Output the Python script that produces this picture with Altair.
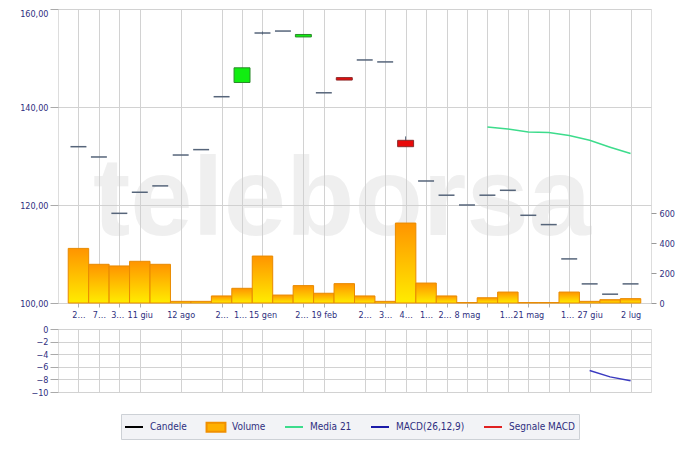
import altair as alt
import pandas as pd

# ---------------- data ----------------
idx = list(range(28))
opens = [131.9, 129.8, 118.3, 122.6, 123.9, 130.2, 131.3, 142.1, 145.0, 155.1,
         155.5, 154.3, 142.9, 146.0, 149.6, 149.2, 133.2, 124.9, 122.0, 120.0,
         122.0, 123.0, 117.9, 116.0, 109.0, 103.9, 101.8, 103.9]
closes = [131.9, 129.8, 118.3, 122.6, 123.9, 130.2, 131.3, 142.1, 148.0, 155.1,
          155.5, 154.8, 142.9, 145.5, 149.6, 149.2, 131.9, 124.9, 122.0, 120.0,
          122.0, 123.0, 117.9, 116.0, 109.0, 103.9, 101.8, 103.9]
highs = [131.9, 129.8, 118.3, 122.6, 123.9, 130.2, 131.3, 142.1, 148.0, 155.4,
         155.5, 154.8, 142.9, 146.0, 149.6, 149.2, 134.0, 124.9, 122.0, 120.0,
         122.0, 123.0, 117.9, 116.0, 109.0, 103.9, 101.8, 103.9]
lows = [131.9, 129.8, 118.3, 122.6, 123.9, 130.2, 131.3, 142.1, 145.0, 154.8,
        155.5, 154.3, 142.9, 145.5, 149.6, 149.2, 131.9, 124.9, 122.0, 120.0,
        122.0, 123.0, 117.9, 116.0, 109.0, 103.9, 101.8, 103.9]
volumes = [364, 258, 247, 278, 258, 11, 11, 47, 98, 313, 53, 116, 65, 129, 47,
           11, 533, 133, 47, 3, 35, 73, 3, 3, 73, 11, 22, 29]
ma21 = [None] * 20 + [135.9, 135.5, 134.9, 134.8, 134.2, 133.2, 131.8, 130.5]
macd = [None] * 25 + [-6.6, -7.6, -8.2]

tick_pos = [0, 1, 2, 3, 5, 7, 8, 9, 11, 12, 14, 15, 16, 17, 18, 19, 20, 21, 22,
            23, 24, 25, 27]
tick_text = ["2…", "7…", "3…", "11 giu", "12 ago", "2…", "1…", "15 gen", "2…",
             "19 feb", "2…", "3…", "4…", "1…", "2…", "8 mag", "", "1…", "21 mag",
             "", "1…", "27 giu", "2 lug"]
price_ticks = [100, 120, 140, 160]
vol_ticks = [0, 200, 400, 600]
macd_ticks = [0, -2, -4, -6, -8, -10]
legend_names = ["Candele", "Volume", "Media 21", "MACD(26,12,9)", "Segnale MACD"]
WATERMARK = "teleborsa"

# ---------------- style ----------------
FONT = "Tahoma, 'DejaVu Sans Condensed', 'DejaVu Sans', sans-serif"
NAVY = "#2f2f80"
GRID = "#d2d2d2"
DASH = "#56657a"
MA_COL = "#3ddc8c"
MACD_COL = "#3a3ac0"
LINE_SYM = "M-1,0H1M0,-0.55M0,0.55"
RECT_SYM = "M-1.05,-0.5H1.05V0.5H-1.05Z"

df = pd.DataFrame({"i": idx, "open": opens, "close": closes, "high": highs,
                   "low": lows, "vol": volumes, "ma": ma21, "macd": macd})
df["xl"] = df["i"] - 0.5
df["xr"] = df["i"] + 0.5
df["bl"] = df["i"] - 0.39
df["br"] = df["i"] + 0.39
df["dir"] = ["up" if c > o else ("down" if c < o else "flat")
             for o, c in zip(opens, closes)]

label_expr = ("[" + ",".join("'" + t + "'" for t in tick_text) + "][indexof(["
              + ",".join(str(p) for p in tick_pos) + "], datum.value)]")
# short labels that sit right before a date label are nudged left a little
nudged = [p for k, p in enumerate(tick_pos[:-1])
          if tick_text[k].endswith("…") and tick_pos[k + 1] == p + 1
          and tick_text[k + 1] and not tick_text[k + 1].endswith("…")]
nudge_test = "indexof([" + ",".join(str(p) for p in nudged) + "], datum.value) >= 0"

xs = alt.Scale(domain=[-1, 28], nice=False, zero=False)
ps = alt.Scale(domain=[100, 160], nice=False, zero=False)
vs = alt.Scale(domain=[0, 1960], nice=False, zero=False)

x_axis_top = alt.Axis(values=tick_pos, labelExpr=label_expr, grid=True,
                      gridColor=GRID, ticks=True, tickSize=4, tickColor="#b0b0b0",
                      domain=False, labelFont=FONT, labelFontSize=9,
                      labelColor=NAVY, labelPadding=3, labelOverlap=False,
                      labelOffset=alt.condition(nudge_test, alt.value(-2),
                                                alt.value(0)),
                      labelFlush=False, title=None, minExtent=18, maxExtent=18)
price_axis = alt.Axis(orient="left", values=price_ticks,
                      labelExpr="replace(format(datum.value, '.2f'), '.', ',')",
                      labelBaseline=alt.condition("datum.value == 160",
                                                  alt.value("top"),
                                                  alt.value("middle")),
                      grid=True, gridColor=GRID, tickSize=8, tickColor="#aaaaaa",
                      domain=False, labelColor=NAVY, labelFont=FONT,
                      labelFontSize=9, labelPadding=2, minExtent=49,
                      maxExtent=49, title=None)
vol_axis = alt.Axis(orient="right", values=vol_ticks, grid=False, domain=False,
                    tickSize=5, tickColor="#999999", labelColor=NAVY,
                    labelFont=FONT, labelFontSize=9, labelPadding=3, title=None)

base = alt.Chart(df)

grad = alt.Gradient(gradient="linear",
                    stops=[alt.GradientStop(color="#ff9400", offset=0),
                           alt.GradientStop(color="#ffec00", offset=1)],
                    x1=0, x2=0, y1=0, y2=1)

vol = base.mark_rect(color=grad, stroke="#e88a00", strokeWidth=1).encode(
    x=alt.X("xl:Q", scale=xs, axis=x_axis_top),
    x2="xr",
    y=alt.Y("vol:Q", scale=vs, axis=vol_axis),
    y2=alt.datum(0),
)

wm = alt.Chart(pd.DataFrame({"t": [WATERMARK]})).mark_text(
    font="'Liberation Sans Narrow', 'Liberation Sans', sans-serif",
    fontSize=112, fontWeight="bold", color="#cfcfcf", opacity=0.32,
    align="center", baseline="alphabetic",
).encode(text="t:N", x=alt.value(284), y=alt.value(226))

wick = base.mark_rule(color=DASH, strokeWidth=1).encode(
    x=alt.X("i:Q", scale=xs, axis=x_axis_top),
    y=alt.Y("low:Q", scale=ps, axis=price_axis),
    y2="high",
)
flat = base.transform_filter(alt.datum.dir == "flat").mark_rule(
    color=DASH, strokeWidth=1.5).encode(
    x=alt.X("bl:Q", scale=xs, axis=x_axis_top), x2="br",
    y=alt.Y("open:Q", scale=ps, axis=price_axis),
)
up = base.transform_filter(alt.datum.dir == "up").mark_rect(
    fill="#11ee11", stroke="#2a8a2a", strokeWidth=1).encode(
    x=alt.X("bl:Q", scale=xs, axis=x_axis_top), x2="br",
    y=alt.Y("open:Q", scale=ps, axis=price_axis), y2="close",
)
down = base.transform_filter(alt.datum.dir == "down").mark_rect(
    fill="#e80a0a", stroke="#8a2a2a", strokeWidth=1).encode(
    x=alt.X("bl:Q", scale=xs, axis=x_axis_top), x2="br",
    y=alt.Y("open:Q", scale=ps, axis=price_axis), y2="close",
)
ma_line = base.mark_line(color=MA_COL, strokeWidth=1.5).encode(
    x=alt.X("i:Q", scale=xs, axis=x_axis_top),
    y=alt.Y("ma:Q", scale=ps, axis=price_axis),
)

price = alt.layer(wm, wick, flat, up, down, ma_line)
top = alt.layer(price, vol).resolve_scale(y="independent").properties(
    width=593, height=294)

# ---------------- MACD panel ----------------
x_axis_bottom = alt.Axis(values=tick_pos, grid=True, gridColor=GRID,
                         labels=False, ticks=False, domain=False, title=None,
                         minExtent=0, maxExtent=0)
macd_axis = alt.Axis(values=macd_ticks, grid=True, gridColor=GRID, tickSize=8,
                     tickColor="#aaaaaa", domain=False, labelColor=NAVY,
                     labelFont=FONT, labelFontSize=9, labelPadding=2,
                     minExtent=49, maxExtent=49, title=None)

macd_line = base.mark_line(color=MACD_COL, strokeWidth=1.5).encode(
    x=alt.X("i:Q", scale=xs, axis=x_axis_bottom),
    y=alt.Y("macd:Q", scale=alt.Scale(domain=[-10, 0], nice=False, zero=False),
            axis=macd_axis),
)

leg = alt.Legend(orient="none", legendX=63, legendY=405, direction="horizontal",
                 title=None, fillColor="#f2f3f6", strokeColor="#cdd1d6",
                 padding=3, labelColor=NAVY, labelFont=FONT, labelFontSize=10,
                 symbolSize=324, symbolStrokeWidth=2, columnPadding=15,
                 labelOffset=6, symbolOpacity=1)
leg_df = pd.DataFrame({"name": legend_names})
legend_layer = alt.Chart(leg_df).mark_point(filled=True, opacity=0).encode(
    x=alt.value(0), y=alt.value(0),
    fill=alt.Fill("name:N", legend=leg, sort=legend_names,
                  scale=alt.Scale(domain=legend_names,
                                  range=["#000000", "#ffb000", MA_COL,
                                         "#1a1aa8", "#e02020"])),
    stroke=alt.Stroke("name:N", legend=leg, sort=legend_names,
                      scale=alt.Scale(domain=legend_names,
                                      range=["#000000", "#f09000", MA_COL,
                                             "#1a1aa8", "#e02020"])),
    shape=alt.Shape("name:N", legend=leg, sort=legend_names,
                    scale=alt.Scale(domain=legend_names,
                                    range=[LINE_SYM, RECT_SYM, LINE_SYM,
                                           LINE_SYM, LINE_SYM])),
)

bottom = alt.layer(macd_line, legend_layer).properties(width=593, height=63)

chart = alt.vconcat(top, bottom, spacing=2,
                    padding={"left": 0, "top": 0, "right": 0, "bottom": 0}
                    ).configure_view(stroke="#c2c2c2").configure(background="white")

chart.save("out.html", embed_options={"renderer": "svg", "actions": False})
